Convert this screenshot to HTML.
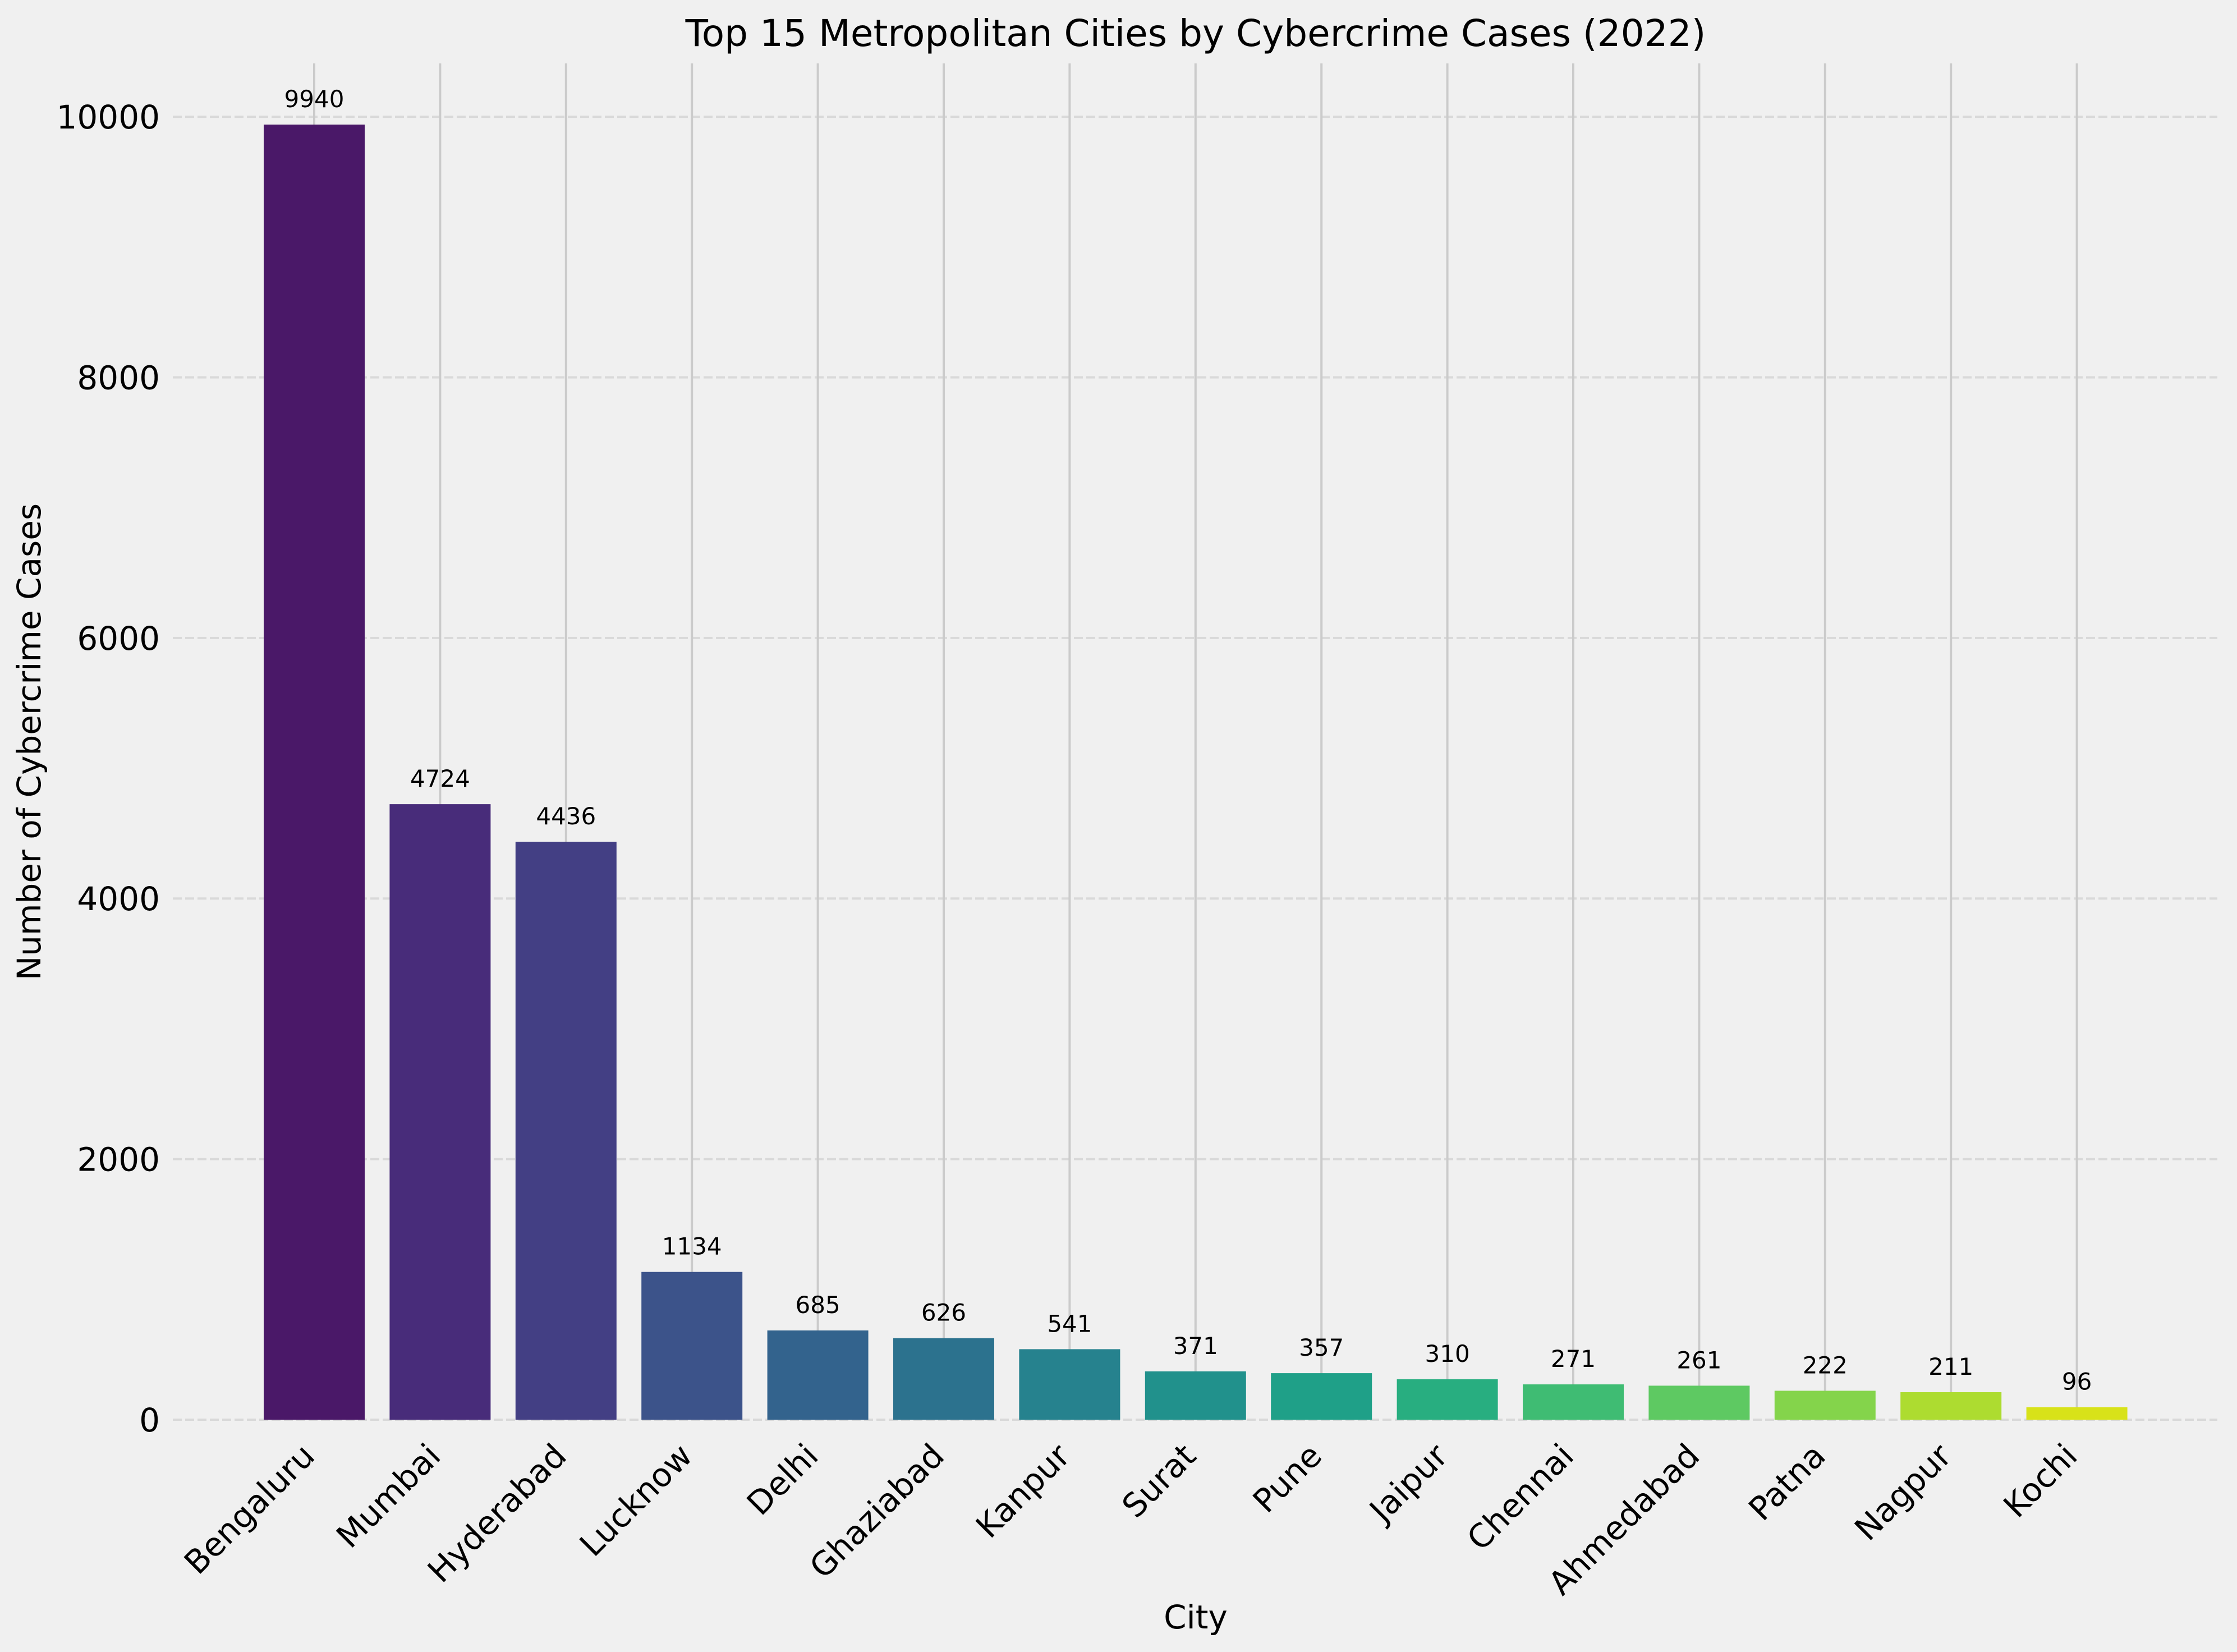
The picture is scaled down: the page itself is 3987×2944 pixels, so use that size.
<!DOCTYPE html>
<html><head><meta charset="utf-8"><style>
html,body{margin:0;padding:0;background:#f0f0f0;}
svg{display:block;font-family:"DejaVu Sans","Liberation Sans",sans-serif;}
</style></head><body>
<svg id="chart" width="3987" height="2944" viewBox="0 0 3987 2944" xmlns="http://www.w3.org/2000/svg">
<rect x="0" y="0" width="3987" height="2944" fill="#f0f0f0"/>
<g id="grid"></g>
<g id="bars"></g>
<g id="labels"></g>
<g id="yticks"></g>
<g id="xticks"></g>
<text x="2131" y="82" font-size="66" text-anchor="middle" fill="#000">Top 15 Metropolitan Cities by Cybercrime Cases (2022)</text>
<text x="0" y="0" font-size="58" text-anchor="middle" fill="#000" transform="translate(72,1322) rotate(-90)">Number of Cybercrime Cases</text>
<text x="2131" y="2902" font-size="58" text-anchor="middle" fill="#000">City</text>
</svg>
<script>
const cities = ["Bengaluru","Mumbai","Hyderabad","Lucknow","Delhi","Ghaziabad","Kanpur","Surat","Pune","Jaipur","Chennai","Ahmedabad","Patna","Nagpur","Kochi"];
const cases = [9940,4724,4436,1134,685,626,541,371,357,310,271,261,222,211,96];
const yTicks = [0,2000,4000,6000,8000,10000];
const colors = ["#4a1868","#482c7a","#433f84","#3c538a","#33638d","#2c728e","#26828e","#21918c","#1fa088","#28ae80","#3fbc73","#5ec962","#84d44b","#addc30","#d8e219"];

(function(){
const NS = "http://www.w3.org/2000/svg";
const axLeft = 308, axRight = 3952, axTop = 113, axBase = 2530;
const x0 = 560, step = 224.4, barW = 180;
const yScale = (axBase - 222) / 9940;
function xPos(i){ return x0 + step * i; }
function yPos(v){ return axBase - v * yScale; }
function mk(tag, attrs){ const e = document.createElementNS(NS, tag); for (const k in attrs) e.setAttribute(k, attrs[k]); return e; }

const grid = document.getElementById('grid');
yTicks.forEach(t => {
  const l = mk('line', {x1:axLeft, x2:axRight, y1:yPos(t), y2:yPos(t), stroke:'#d9d9d9', 'stroke-width':4, 'stroke-dasharray':'16 6'});
  
  
  grid.appendChild(l);
});
cities.forEach((c, i) => {
  const l = mk('line', {x1:xPos(i), x2:xPos(i), y1:axTop, y2:axBase, stroke:'#cbcbcb', 'stroke-width':4});
  
  
  grid.appendChild(l);
});

const bars = document.getElementById('bars');
const labels = document.getElementById('labels');
const xticks = document.getElementById('xticks');
cities.forEach((c, i) => {
  const v = cases[i];
  const r = mk('rect', {x:xPos(i) - barW/2, y:yPos(v), width:barW, height:axBase - yPos(v), fill:colors[i]});
  
  
  bars.appendChild(r);
  const t = mk('text', {x:xPos(i), y:yPos(v) - 31, 'font-size':42, 'text-anchor':'middle', fill:'#000'});
  t.textContent = String(v);
  
  
  labels.appendChild(t);
  const xt = mk('text', {x:0, y:0, 'font-size':58, 'text-anchor':'end', fill:'#000', transform:'translate(' + (xPos(i) + 4) + ',2598) rotate(-45)'});
  xt.textContent = c;
  
  
  xticks.appendChild(xt);
});

const yt = document.getElementById('yticks');
yTicks.forEach(t => {
  const e = mk('text', {x:285, y:yPos(t) + 21, 'font-size':58, 'text-anchor':'end', fill:'#000'});
  e.textContent = String(t);
  
  
  yt.appendChild(e);
});
})();
</script>
</body></html>
